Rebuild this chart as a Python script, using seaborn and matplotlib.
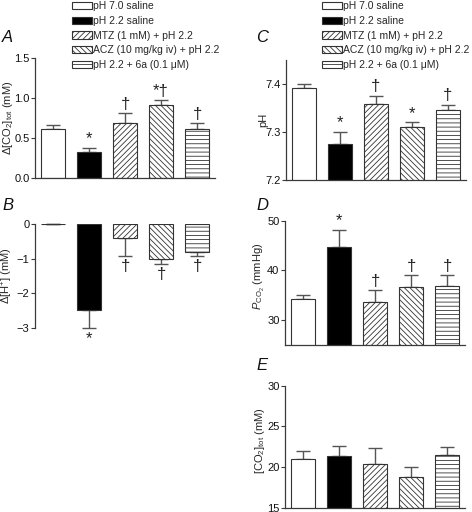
import numpy as np
import pandas as pd
import seaborn as sns
import matplotlib
matplotlib.use("Agg")
import matplotlib.pyplot as plt
from matplotlib.patches import Patch

# ---------------- data ----------------
groups = ["pH 7.0 saline", "pH 2.2 saline", "MTZ (1 mM) + pH 2.2",
          "ACZ (10 mg/kg iv) + pH 2.2", "pH 2.2 + 6a (0.1 \u03bcM)"]
colors = ["white", "black", "white", "white", "white"]
hatches = ["", "", "//////", "\\\\\\\\\\\\", "----"]

dco2_mean = [0.61, 0.33, 0.69, 0.91, 0.61]
dco2_err = [0.67, 0.38, 0.81, 0.975, 0.69]
dco2_sig = ["", "*", "\u2020", "*\u2020", "\u2020"]

dh_mean = [0.0, -2.49, -0.41, -1.0, -0.81]
dh_err = [0.0, -3.0, -0.92, -1.16, -0.92]
dh_sig = ["", "*", "\u2020", "\u2020", "\u2020"]

ph_mean = [7.392, 7.275, 7.359, 7.31, 7.345]
ph_err = [7.40, 7.30, 7.376, 7.32, 7.357]
ph_sig = ["", "*", "\u2020", "*", "\u2020"]

pco2_mean = [34.1, 44.75, 33.5, 36.55, 36.75]
pco2_err = [35.05, 48.2, 36.0, 39.0, 39.0]
pco2_sig = ["", "*", "\u2020", "\u2020", "\u2020"]

co2_mean = [21.02, 21.39, 20.41, 18.78, 21.51]
co2_err = [21.95, 22.56, 22.37, 20.08, 22.49]
co2_sig = ["", "", "", "", ""]

# ---------------- style ----------------
sns.set_theme(style="ticks")
plt.rcParams["font.family"] = ["Liberation Sans", "DejaVu Sans"]
plt.rcParams["mathtext.fontset"] = "custom"
plt.rcParams["mathtext.rm"] = "Liberation Sans"
plt.rcParams["mathtext.it"] = "Liberation Sans:italic"
plt.rcParams["hatch.linewidth"] = 0.6
plt.rcParams["axes.unicode_minus"] = True

AX_COL = "#3a3a3a"
ERR_COL = "#555555"
FS_TICK = 8
FS_LAB = 8

W, H = 472, 512
fig = plt.figure(figsize=(W / 100, H / 100), dpi=100)


def px_axes(left, top, right, bottom):
    return fig.add_axes([left / W, 1 - bottom / H, (right - left) / W, (bottom - top) / H])


def draw_panel(ax, means, errs, sigs, ylim, yticks, ticklabels, ylabel, below=False,
               bottom_spine=True):
    df = pd.DataFrame({"group": groups, "value": means})
    sns.barplot(data=df, x="group", y="value", hue="group", order=groups,
                hue_order=groups, palette=colors, ax=ax, width=0.67,
                edgecolor="#333333", linewidth=0.8, legend=False, errorbar=None,
                saturation=1)
    for p, h in zip(ax.patches, hatches):
        p.set_hatch(h)
        p.set_zorder(2)
    x = np.arange(len(groups))
    m = np.array(means)
    e = np.array(errs)
    if below:
        yerr = [m - e, np.zeros_like(m)]
    else:
        yerr = [np.zeros_like(m), e - m]
    ax.errorbar(x, m, yerr=yerr, fmt="none", ecolor=ERR_COL, elinewidth=1.0,
                capsize=5, capthick=1.0, zorder=1, clip_on=False)
    for i, s in enumerate(sigs):
        if not s:
            continue
        if below:
            ax.annotate(s, (x[i], e[i]), xytext=(0, -2), textcoords="offset points",
                        ha="center", va="top", fontsize=12, color="#222222")
        else:
            ax.annotate(s, (x[i], e[i]), xytext=(0, 1), textcoords="offset points",
                        ha="center", va="bottom", fontsize=12, color="#222222")
    ax.set_xlim(-0.5, 4.5)
    ax.set_ylim(*ylim)
    ax.set_yticks(yticks)
    ax.set_yticklabels(ticklabels, fontsize=FS_TICK)
    ax.set_xticks([])
    ax.set_xlabel("")
    ax.set_ylabel(ylabel, fontsize=FS_LAB)
    sns.despine(ax=ax, top=True, right=True, bottom=not bottom_spine)
    for sp in ["left", "bottom"]:
        ax.spines[sp].set_color(AX_COL)
        ax.spines[sp].set_linewidth(0.9)
    ax.tick_params(axis="y", length=3, width=0.8, color=AX_COL, pad=1,
                   labelcolor="#111111")


# Panel A
axA = px_axes(35, 58.3, 215, 178)
draw_panel(axA, dco2_mean, dco2_err, dco2_sig, (0, 1.5), [0, 0.5, 1.0, 1.5],
           ["0.0", "0.5", "1.0", "1.5"], r"$\Delta$[CO$_2$]$_{\rm tot}$ (mM)")
axA.yaxis.set_label_coords(-0.112, 0.5)

# Panel B
axB = px_axes(35, 224, 215, 328)
draw_panel(axB, dh_mean, dh_err, dh_sig, (-3, 0), [0, -1, -2, -3],
           ["0", "\u22121", "\u22122", "\u22123"], r"$\Delta$[H$^{+}$] (mM)",
           below=True, bottom_spine=False)
axB.yaxis.set_label_coords(-0.112, 0.5)

# Panel C
axC = px_axes(286, 60, 466, 180)
draw_panel(axC, ph_mean, ph_err, ph_sig, (7.2, 7.45), [7.2, 7.3, 7.4],
           ["7.2", "7.3", "7.4"], "pH")
axC.yaxis.set_label_coords(-0.1, 0.5)

# Panel D
axD = px_axes(285, 220.7, 465, 344.5)
draw_panel(axD, pco2_mean, pco2_err, pco2_sig, (25, 50), [30, 40, 50],
           ["30", "40", "50"], r"$P_{\rm CO_2}$ (mmHg)")
axD.yaxis.set_label_coords(-0.1, 0.55)

# Panel E
axE = px_axes(285, 385.7, 465, 508)
draw_panel(axE, co2_mean, co2_err, co2_sig, (15, 30), [15, 20, 25, 30],
           ["15", "20", "25", "30"], r"[CO$_2$]$_{\rm tot}$ (mM)")
axE.yaxis.set_label_coords(-0.1, 0.55)

# Panel letters
for letter, (lx, ly) in {"A": (2, 38), "B": (2, 205), "C": (256, 38),
                         "D": (256, 205), "E": (256, 365)}.items():
    fig.text(lx / W, 1 - ly / H, letter, fontsize=12, style="italic",
             ha="left", va="center", color="#111111")

# Legends
handles = [Patch(facecolor=c, edgecolor="#333333", hatch=h, linewidth=0.8)
           for c, h in zip(colors, hatches)]
for lx in (72, 322):
    fig.legend(handles=handles, labels=groups, loc="upper left",
               bbox_to_anchor=(lx / W, 1 - 1 / H), frameon=False, fontsize=7.5,
               handlelength=1.9, handleheight=0.7, handletextpad=0.1,
               labelspacing=0.46, borderaxespad=0, borderpad=0)

fig.savefig("out.png", dpi=100)
